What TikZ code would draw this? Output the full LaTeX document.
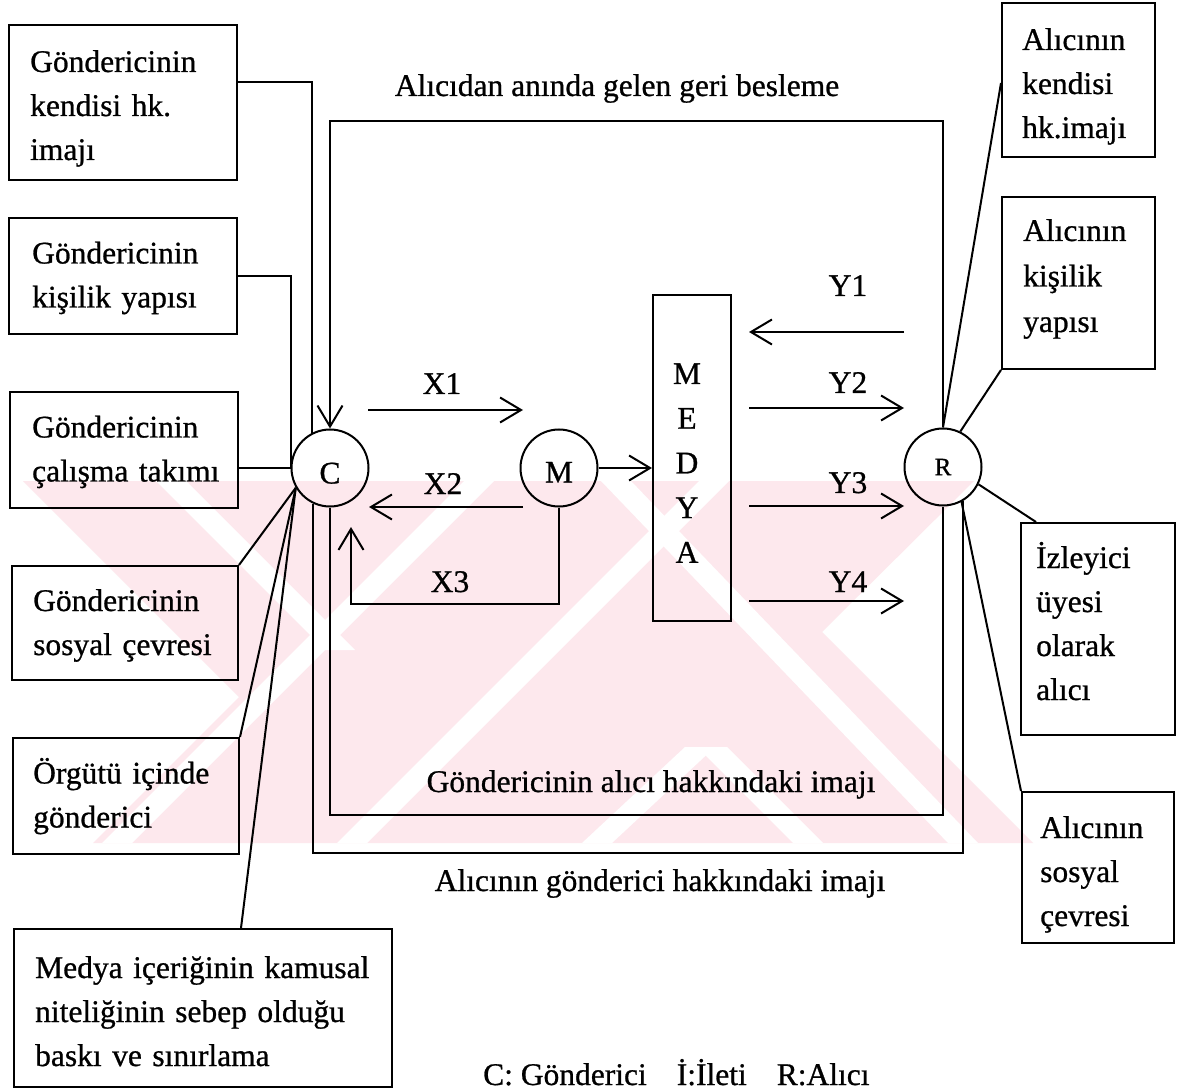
\documentclass[tikz,border=0pt]{standalone}
\usepackage{fontspec}
\setmainfont{Liberation Serif}[FakeBold=0.8]
\usetikzlibrary{arrows.meta,calc}
\definecolor{wmpink}{RGB}{253,232,237}
\begin{document}
\begin{tikzpicture}[x=1pt,y=-1pt,
  txt/.style={font=\fontsize{31.5}{44}\selectfont, inner sep=0pt},
  stroke/.style={line width=2pt},
  frame/.style={draw, line width=2pt, inner sep=0pt},
  btext/.style={align=left, text width=360pt, inner sep=0pt, anchor=base west,
    font=\fontsize{31.5}{44}\selectfont},
  disc/.style={draw, circle, line width=2pt, minimum size=77pt, inner sep=0pt,
    font=\fontsize{31.5}{36}\selectfont},
  arr/.style={line width=2pt, -{Straight Barb[length=21pt,width=25pt]}},
]
\useasboundingbox[fill=white] (0,0) rectangle (1179,1091);

% faint background emblem
\begin{scope}
  \clip (0,481) rectangle (1179,843);
  \fill[wmpink] (23,481) -- (239,697) -- (93,843) -- (1033,843) -- (822,632) -- (974,481) -- cycle;
  \fill[white] (156,481) -- (186,481) -- (355,650) -- (325,650) -- cycle;
  \fill[white] (464,481) -- (494,481) -- (132,843) -- (102,843) -- cycle;
  \fill[white] (699,481) -- (729,481) -- (367,843) -- (337,843) -- cycle;
  \fill[white] (685,747) -- (715,747) -- (612,843) -- (582,843) -- cycle;
  \fill[white] (697,747) -- (727,747) -- (823,843) -- (793,843) -- cycle;
  \fill[white] (601,481) -- (631,481) -- (978,843) -- (948,843) -- cycle;
\end{scope}

% sender side boxes
\node[frame, minimum width=228pt, minimum height=155pt] (g1) at (123,102.5) {};
\node[frame, minimum width=228pt, minimum height=116pt] (g2) at (123,276) {};
\node[frame, minimum width=228pt, minimum height=116pt] (g3) at (124,450) {};
\node[frame, minimum width=226pt, minimum height=114pt] (g4) at (125,623) {};
\node[frame, minimum width=226pt, minimum height=116pt] (g5) at (126,796) {};
\node[frame, minimum width=378pt, minimum height=158pt] (g6) at (203,1008) {};
\node[btext] (g1t) at (30,72) {Göndericinin\\kendisi hk.\\imajı};
\node[btext] (g2t) at (32,263.5) {Göndericinin\\kişilik yapısı};
\node[btext] (g3t) at (32,437.5) {Göndericinin\\çalışma takımı};
\node[btext] (g4t) at (33,611) {Göndericinin\\sosyal çevresi};
\node[btext] (g5t) at (33,783.5) {Örgütü içinde\\gönderici};
\node[btext] (g6t) at (35,978) {Medya içeriğinin kamusal\\niteliğinin sebep olduğu\\baskı ve sınırlama};

% receiver side boxes
\node[frame, minimum width=153pt, minimum height=154pt] (a1) at (1078.5,80) {};
\node[frame, minimum width=153pt, minimum height=172pt] (a2) at (1078.5,283) {};
\node[frame, minimum width=154pt, minimum height=212pt] (a3) at (1098,629) {};
\node[frame, minimum width=152pt, minimum height=151pt] (a4) at (1098,867.5) {};
\node[btext] (a1t) at (1022,50) {Alıcının\\kendisi\\hk.imajı};
\node[btext, font=\fontsize{31.5}{45.5}\selectfont] (a2t) at (1023,241) {Alıcının\\kişilik\\yapısı};
\node[btext] (a3t) at (1036,568) {İzleyici\\üyesi\\olarak\\alıcı};
\node[btext] (a4t) at (1040,838) {Alıcının\\sosyal\\çevresi};

% main chain
\node[disc, text height=31pt, text depth=0pt] (C) at (330,468) {C};
\node[disc, text height=29pt, text depth=0pt] (M) at (559,468) {M};
\node[disc, font=\fontsize{25}{30}\selectfont] (R) at (943,467) {R};
\node[frame, minimum width=78pt, minimum height=326pt] (medya) at (692,458) {};
\node[txt, align=center, text width=60pt, anchor=base, font=\fontsize{31.5}{44.7}\selectfont] (medyaT) at (687,384) {M\\E\\D\\Y\\A};

% titles
\node[txt, anchor=base] (tFeed) at (617,96) {Alıcıdan anında gelen geri besleme};
\node[txt, anchor=base] (tInner) at (651,792) {Göndericinin alıcı hakkındaki imajı};
\node[txt, anchor=base] (tOuter) at (660,891) {Alıcının gönderici hakkındaki imajı};
\node[txt, anchor=base west] (legend) at (483,1085) {C: Gönderici\hspace{30pt}İ:İleti\hspace{30pt}R:Alıcı};

% flow labels
\node[txt, anchor=base] (lx1) at (442,394) {X1};
\node[txt, anchor=base] (lx2) at (443,494) {X2};
\node[txt, anchor=base] (lx3) at (450,592) {X3};
\node[txt, anchor=base] (ly1) at (848,296) {Y1};
\node[txt, anchor=base] (ly2) at (848,393) {Y2};
\node[txt, anchor=base] (ly3) at (848,493) {Y3};
\node[txt, anchor=base] (ly4) at (848,592) {Y4};

% free arrow ends
\coordinate (x1s) at (368,410);  \coordinate (x1e) at (523,410);
\coordinate (x2s) at (523,507);  \coordinate (x2e) at (369,507);
\coordinate (x3e) at (351,527);
\coordinate (y1s) at (904,332);  \coordinate (y1e) at (749,332);
\coordinate (y2s) at (749,408);  \coordinate (y2e) at (904,408);
\coordinate (y3s) at (749,506);  \coordinate (y3e) at (904,506);
\coordinate (y4s) at (749,601);  \coordinate (y4e) at (904,601);
\coordinate (topY) at (943,121);
\coordinate (innerY) at (0,815);
\coordinate (outerY) at (0,853);

% influences on the sender
\draw[stroke] ([yshift=-58pt]g1.north east) -| (C.117);
\draw[stroke] (g2.east) -| (C.west);
\draw[stroke] (g3.east |- C.west) -- (C.west);
\draw[stroke] (g4.north east) -- (C.210);
\draw[stroke] (g5.north east) -- (C.210);
\draw[stroke] ([xshift=38pt]g6.north) -- (C.210);

% influences on the receiver
\draw[stroke] ([yshift=-3pt]a1.west) -- (R.north);
\draw[stroke] (a2.south west) -- (R.64);
\draw[stroke] ([xshift=16pt]a3.north west) -- (R.-26);
\draw[stroke] (a4.north west) -- (R.-62);

% message flows
\draw[arr] (x1s) -- (x1e);
\draw[arr] (x2s) -- (x2e);
\draw[arr] (M.south) -- ++(0,96) -| (x3e);
\draw[arr] (M.east) -- (M.east -| medya.west);
\draw[arr] (y1s) -- (y1e);
\draw[arr] (y2s) -- (y2e);
\draw[arr] (y3s) -- (y3e);
\draw[arr] (y4s) -- (y4e);

% feedback and image loops
\draw[arr] (R.north) -- (topY) -| (C.north);
\draw[stroke] (C.south) -- (C.south |- innerY) -| (R.south);
\draw[stroke] (C.-115) -- (C.-115 |- outerY) -| (R.-59);
\end{tikzpicture}
\end{document}
